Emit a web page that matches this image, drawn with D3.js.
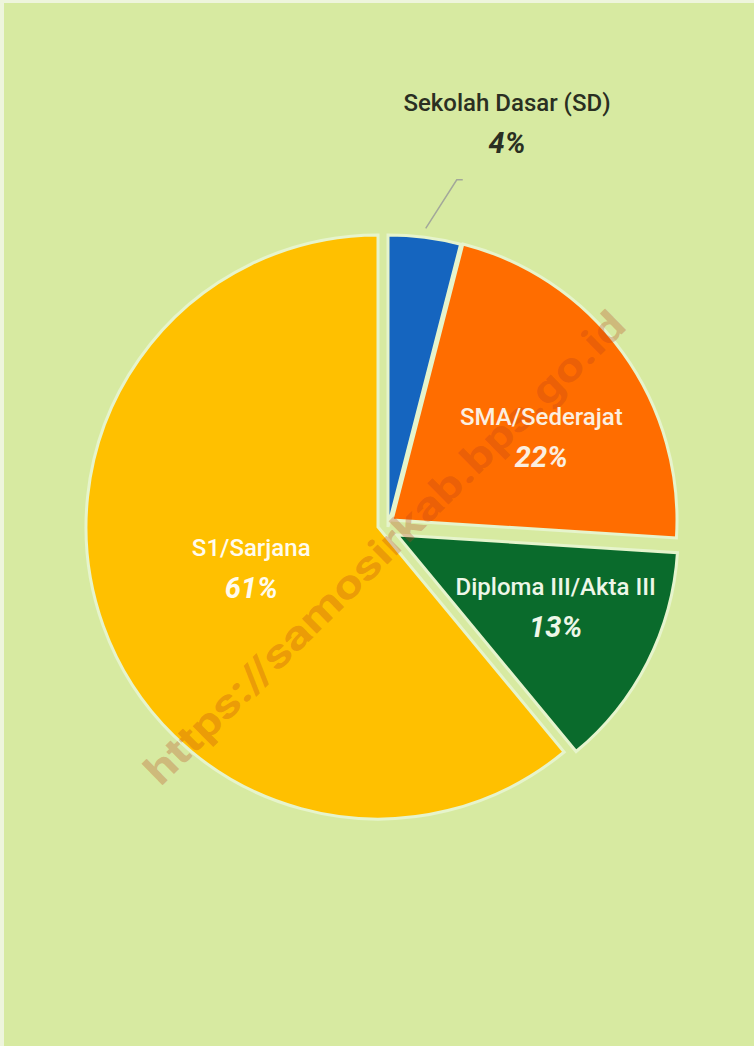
<!DOCTYPE html>
<html>
<head>
<meta charset="utf-8">
<script src="https://cdn.jsdelivr.net/npm/d3@7"></script>
<style>
  html, body { margin: 0; padding: 0; background: #d7eaa1; }
  svg { display: block; }
</style>
</head>
<body>
<svg id="chart" width="754" height="1046"></svg>
<script>
// ---- data ----
const categories = ["Sekolah Dasar (SD)", "SMA/Sederajat", "Diploma III/Akta III", "S1/Sarjana"];
const values = [4, 22, 13, 61];
const percentLabels = ["4%", "22%", "13%", "61%"];
const watermarkText = "https://samosirkab.bps.go.id";

// ---- styles ----
const W = 754, H = 1046;
const baseCenter = [378, 527];
const sliceColors = ["#1565bf", "#ff6d00", "#0a6b2c", "#ffc000"];
const sliceOffsets = [[10, 0], [14, -7], [19, 8], [0, 0]];   // explosion offsets
const sliceRadii = [292, 285, 281, 292];
const labelRadius = [429, 175, 171, 131];
const labelAngleShift = [8.9, 4.6, -5.1, 5.2];              // degrees
const labelColors = ["#2a2f22", "#fbefe0", "#eef7e8", "#fffbee"];
const outside = [true, false, false, false];

const svg = d3.select("#chart");
svg.append("rect").attr("width", W).attr("height", H).attr("fill", "#d7eaa1");
svg.append("rect").attr("x", 0).attr("y", 0).attr("width", W).attr("height", 3).attr("fill", "#eef5dc");
svg.append("rect").attr("x", 0).attr("y", 0).attr("width", 4).attr("height", H).attr("fill", "#eef5dc");

const pie = d3.pie().sort(null).value(d => d)(values);
const rad = Math.PI / 180;

const gSlices = svg.append("g");
pie.forEach((p, i) => {
  const cx = baseCenter[0] + sliceOffsets[i][0];
  const cy = baseCenter[1] + sliceOffsets[i][1];
  const arc = d3.arc().innerRadius(0).outerRadius(sliceRadii[i]);
  gSlices.append("path")
    .attr("transform", `translate(${cx},${cy})`)
    .attr("d", arc(p))
    .attr("fill", sliceColors[i])
    .attr("stroke", "#e6f4cc")
    .attr("stroke-width", 3)
    .attr("stroke-linejoin", "miter");
});

// leader line for the outside label (SD)
pie.forEach((p, i) => {
  if (!outside[i]) return;
  const cx = baseCenter[0] + sliceOffsets[i][0];
  const cy = baseCenter[1] + sliceOffsets[i][1];
  const mid = (p.startAngle + p.endAngle) / 2;
  const polar = (r, a) => [cx + r * Math.sin(a), cy - r * Math.cos(a)];
  const p1 = polar(sliceRadii[i] + 9, mid);
  const p2 = polar(sliceRadii[i] + 62, mid + 4 * rad);
  const p3 = [p2[0] + 6, p2[1]];
  svg.append("path")
    .attr("d", d3.line()([p1, p2, p3]))
    .attr("fill", "none")
    .attr("stroke", "#a3a89a")
    .attr("stroke-width", 1.5);
});

// watermark
svg.append("text")
  .attr("transform", "translate(387,550) rotate(-44.5)")
  .attr("text-anchor", "middle")
  .attr("dominant-baseline", "middle")
  .attr("font-family", "Roboto, 'DejaVu Sans', sans-serif")
  .attr("font-weight", "bold")
  .attr("font-size", 40)
  .attr("textLength", 655)
  .attr("lengthAdjust", "spacingAndGlyphs")
  .attr("fill", "#b8401c")
  .attr("fill-opacity", 0.3)
  .text(watermarkText);

// labels
const gLabels = svg.append("g");
pie.forEach((p, i) => {
  const cx = baseCenter[0] + sliceOffsets[i][0];
  const cy = baseCenter[1] + sliceOffsets[i][1];
  const mid = (p.startAngle + p.endAngle) / 2 + labelAngleShift[i] * rad;
  const lx = cx + labelRadius[i] * Math.sin(mid);
  const ly = cy - labelRadius[i] * Math.cos(mid);
  const g = gLabels.append("g").attr("transform", `translate(${lx},${ly})`);
  g.append("text")
    .attr("text-anchor", "middle")
    .attr("y", -4)
    .attr("font-family", "Roboto, 'Noto Sans', sans-serif")
    .attr("font-size", 24)
    .attr("font-weight", 500)
    .attr("fill", labelColors[i])
    .text(categories[i]);
  g.append("text")
    .attr("text-anchor", "middle")
    .attr("y", 38)
    .attr("font-family", "Roboto, 'Noto Sans', sans-serif")
    .attr("font-size", 29)
    .attr("font-weight", "bold")
    .attr("font-style", "italic")
    .attr("fill", labelColors[i])
    .text(percentLabels[i]);
});
</script>
</body>
</html>
